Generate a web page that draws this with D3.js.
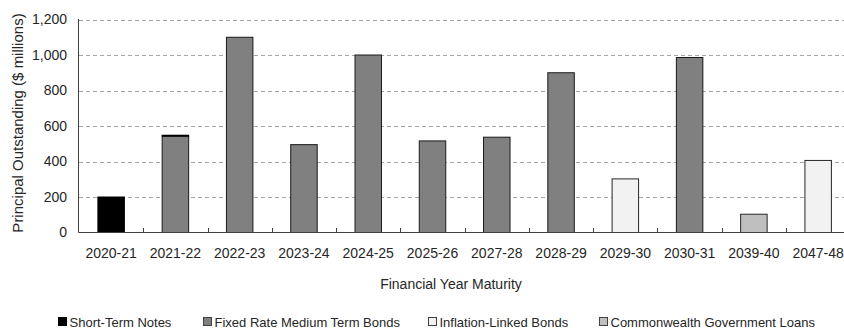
<!DOCTYPE html>
<html>
<head>
<meta charset="utf-8">
<script src="https://cdn.jsdelivr.net/npm/d3@7"></script>
<style>
  html, body { margin: 0; padding: 0; background: #fff; }
  svg { display: block; font-family: "Liberation Sans", Arial, sans-serif; }
</style>
</head>
<body>
<div id="chart"></div>
<script>
// categories and series (values in $ millions)
const years = ["2020-21", "2021-22", "2022-23", "2023-24", "2024-25", "2025-26",
               "2027-28", "2028-29", "2029-30", "2030-31", "2039-40", "2047-48"];
const shortTermNotes = [200, 5, 0, 0, 0, 0, 0, 0, 0, 0, 0, 0];
const fixedRateBonds = [0, 543, 1100, 495, 1000, 516, 537, 900, 0, 986, 0, 0];
const inflationLinked = [0, 0, 0, 0, 0, 0, 0, 0, 302, 0, 0, 406];
const commonwealthLoans = [0, 0, 0, 0, 0, 0, 0, 0, 0, 0, 103, 0];
const yTicks = [0, 200, 400, 600, 800, 1000, 1200];

const series = [
    { key: "fixed", name: "Fixed Rate Medium Term Bonds", values: fixedRateBonds, fill: "#808080", stroke: "#1a1a1a" },
    { key: "short", name: "Short-Term Notes", values: shortTermNotes, fill: "#000000", stroke: "#000000" },
    { key: "infl", name: "Inflation-Linked Bonds", values: inflationLinked, fill: "#f2f2f2", stroke: "#262626" },
    { key: "cgl", name: "Commonwealth Government Loans", values: commonwealthLoans, fill: "#bfbfbf", stroke: "#262626" },
];
const legendOrder = ["short", "fixed", "infl", "cgl"];

const W = 844, H = 329;
const svg = d3.select("#chart").append("svg")
    .attr("width", W).attr("height", H);

const rows = years.map((y, i) => {
    const r = { year: y };
    series.forEach(s => r[s.key] = s.values[i]);
    return r;
});

const x = d3.scaleBand()
    .domain(years)
    .range([79, 850.3])
    .paddingInner(0.588)
    .paddingOuter(0.294);
const step = x.step();

const y = d3.scaleLinear()
    .domain([0, 1200])
    .range([232.5, 19.5]);

// gridlines
svg.append("g")
    .selectAll("line")
    .data(yTicks.filter(d => d > 0))
    .enter().append("line")
    .attr("x1", 79).attr("x2", W)
    .attr("y1", d => Math.round(y(d)) + 0.5)
    .attr("y2", d => Math.round(y(d)) + 0.5)
    .attr("stroke", "#a6a6a6")
    .attr("stroke-width", 1)
    .attr("stroke-dasharray", "4,3");

// y tick labels
svg.append("g")
    .selectAll("text")
    .data(yTicks)
    .enter().append("text")
    .attr("x", 67)
    .attr("y", d => y(d))
    .attr("dy", "0.35em")
    .attr("text-anchor", "end")
    .style("font-size", "14px")
    .attr("fill", "#262626")
    .text(d => d3.format(",")(d));

// stacked bars
const stack = d3.stack().keys(series.map(s => s.key));
const layers = stack(rows);
layers.forEach((layer, li) => {
    const s = series[li];
    svg.append("g")
        .selectAll("rect")
        .data(layer.filter(d => d[1] - d[0] > 0))
        .enter().append("rect")
        .attr("x", d => x(d.data.year))
        .attr("width", x.bandwidth())
        .attr("y", d => y(d[1]))
        .attr("height", d => y(d[0]) - y(d[1]))
        .attr("fill", s.fill)
        .attr("stroke", s.stroke)
        .attr("stroke-width", 1);
});

// axes lines
svg.append("line")
    .attr("x1", 78.5).attr("x2", 78.5)
    .attr("y1", 19).attr("y2", 232.5)
    .attr("stroke", "#404040");
svg.append("line")
    .attr("x1", 78.5).attr("x2", W)
    .attr("y1", 232.5).attr("y2", 232.5)
    .attr("stroke", "#404040");

// x tick marks between categories (pointing up)
svg.append("g")
    .selectAll("line")
    .data(years.slice(1))
    .enter().append("line")
    .attr("x1", d => Math.round(x(d) - x.paddingOuter() * step) + 0.5)
    .attr("x2", d => Math.round(x(d) - x.paddingOuter() * step) + 0.5)
    .attr("y1", 232.5).attr("y2", 228)
    .attr("stroke", "#404040");

// x tick labels
svg.append("g")
    .selectAll("text")
    .data(years)
    .enter().append("text")
    .attr("x", d => x(d) + x.bandwidth() / 2)
    .attr("y", 253.5)
    .attr("dy", "0.35em")
    .attr("text-anchor", "middle")
    .style("font-size", "14px")
    .attr("fill", "#262626")
    .text(d => d);

// axis titles
svg.append("text")
    .attr("x", 451)
    .attr("y", 284)
    .attr("dy", "0.35em")
    .attr("text-anchor", "middle")
    .style("font-size", "14px")
    .attr("fill", "#262626")
    .text("Financial Year Maturity");

svg.append("text")
    .attr("transform", "translate(17.5,123) rotate(-90)")
    .attr("dy", "0.35em")
    .attr("text-anchor", "middle")
    .style("font-size", "15px")
    .attr("fill", "#262626")
    .text("Principal Outstanding ($ millions)");

// legend
const legendX = { short: 58, fixed: 203, infl: 428, cgl: 599 };
const legend = svg.append("g");
legendOrder.forEach(k => {
    const s = series.find(d => d.key === k);
    const g = legend.append("g").attr("transform", `translate(${legendX[k]},322)`);
    g.append("rect")
        .attr("x", 0.5).attr("y", -4.5)
        .attr("width", 8).attr("height", 8)
        .attr("fill", s.fill)
        .attr("stroke", k === "short" ? "#000" : "#404040");
    g.append("text")
        .attr("x", 11.5)
        .attr("y", 0)
        .attr("dy", "0.35em")
        .style("font-size", "13px")
        .attr("fill", "#262626")
        .text(s.name);
});
</script>
</body>
</html>
